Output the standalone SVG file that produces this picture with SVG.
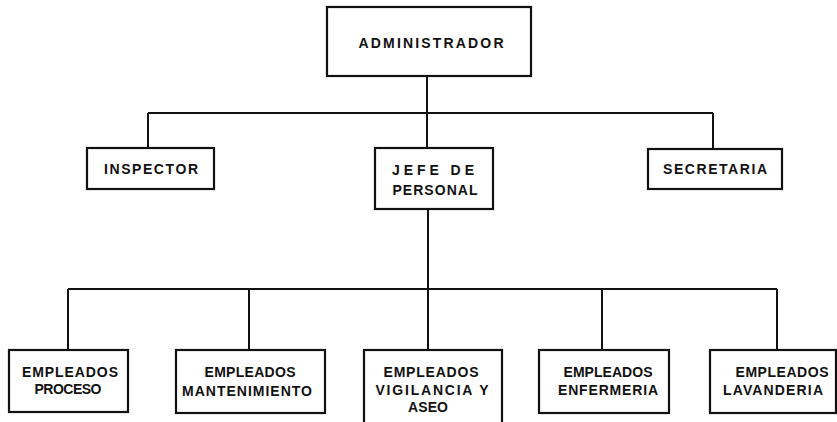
<svg xmlns="http://www.w3.org/2000/svg" width="837" height="422" viewBox="0 0 837 422">
<style>
.box{fill:none;stroke:#111;stroke-width:2.2}
.ln{fill:none;stroke:#111;stroke-width:2}
text{font-family:"Liberation Sans",Arial,sans-serif;font-weight:bold;font-size:14px;fill:#111;text-anchor:middle}
</style>
<rect width="837" height="422" fill="#fff"/>
<g id="connectors">
<path class="ln" d="M427 76V148M148 113H713M148 113V148M713 113V149"/>
<path class="ln" d="M428 209V350M68 289H777M68 289V350M249 289V350M602 289V350M777 289V350"/>
</g>
<g id="administrador">
<rect class="box" x="327" y="7" width="204" height="69"/>
<text x="431" y="48" textLength="145" lengthAdjust="spacing">ADMINISTRADOR</text>
</g>
<g id="inspector">
<rect class="box" x="87" y="148" width="127" height="41"/>
<text x="151" y="174" textLength="94" lengthAdjust="spacing">INSPECTOR</text>
</g>
<g id="jefe-de-personal">
<rect class="box" x="375" y="148" width="118" height="61"/>
<text x="433" y="175" textLength="82" lengthAdjust="spacing">JEFE DE</text>
<text x="435" y="195" textLength="85" lengthAdjust="spacing">PERSONAL</text>
</g>
<g id="secretaria">
<rect class="box" x="648" y="149" width="134" height="40"/>
<text x="715" y="174" textLength="104" lengthAdjust="spacing">SECRETARIA</text>
</g>
<g id="empleados-proceso">
<rect class="box" x="9" y="350" width="119" height="62"/>
<text x="70" y="377" textLength="96" lengthAdjust="spacing">EMPLEADOS</text>
<text x="68" y="394" textLength="67" lengthAdjust="spacing">PROCESO</text>
</g>
<g id="empleados-mantenimiento">
<rect class="box" x="176" y="350" width="149" height="63"/>
<text x="250" y="377" textLength="91" lengthAdjust="spacing">EMPLEADOS</text>
<text x="247" y="396" textLength="130" lengthAdjust="spacing">MANTENIMIENTO</text>
</g>
<g id="empleados-vigilancia">
<rect class="box" x="364" y="350" width="138" height="80"/>
<text x="431" y="377" textLength="95" lengthAdjust="spacing">EMPLEADOS</text>
<text x="432" y="395" textLength="113" lengthAdjust="spacing">VIGILANCIA  Y</text>
<text x="428" y="412" textLength="40" lengthAdjust="spacing">ASEO</text>
</g>
<g id="empleados-enfermeria">
<rect class="box" x="539" y="350" width="130" height="63"/>
<text x="608" y="377" textLength="89" lengthAdjust="spacing">EMPLEADOS</text>
<text x="608" y="395" textLength="100" lengthAdjust="spacing">ENFERMERIA</text>
</g>
<g id="empleados-lavanderia">
<rect class="box" x="710" y="350" width="126" height="63"/>
<text x="782" y="377" textLength="93" lengthAdjust="spacing">EMPLEADOS</text>
<text x="773" y="395" textLength="100" lengthAdjust="spacing">LAVANDERIA</text>
</g>
</svg>
